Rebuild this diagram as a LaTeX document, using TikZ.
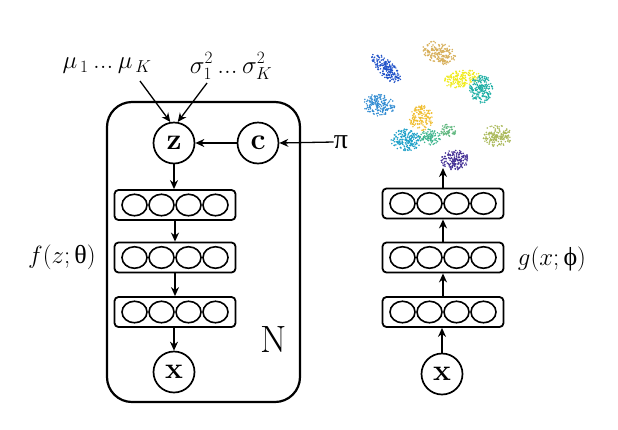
\documentclass[tikz,border=0pt]{standalone}
\usepackage{fontspec}
\usetikzlibrary{arrows.meta,calc,shapes.geometric}
\newfontfamily\grk{Liberation Serif}
\definecolor{cA}{RGB}{30,80,200}
\definecolor{cB}{RGB}{215,175,90}
\definecolor{cC}{RGB}{240,235,30}
\definecolor{cD}{RGB}{30,175,165}
\definecolor{cE}{RGB}{50,140,210}
\definecolor{cF}{RGB}{240,190,50}
\definecolor{cG}{RGB}{30,160,200}
\definecolor{cH}{RGB}{60,180,140}
\definecolor{cI}{RGB}{100,185,130}
\definecolor{cJ}{RGB}{170,185,90}
\definecolor{cK}{RGB}{70,50,150}
\newcommand\drawcluster[7]{%
  \foreach \k in {1,...,#7}{%
    \pgfmathsetmacro\myr{rnd^0.65}%
    \pgfmathsetmacro\myt{360*rnd}%
    \fill[#6] ($(#1,#2)+(#5:{#3*\myr*cos(\myt)})+(#5+90:{#4*\myr*sin(\myt)})$) circle (0.85);
  }}
\begin{document}
\begin{tikzpicture}[x=1pt,y=-1pt,
  every node/.style={inner sep=0pt},
  var/.style={draw,circle,line width=1.7pt,minimum size=41pt,font=\fontsize{30}{32}\selectfont\bfseries},
  layerbox/.style={draw,rounded corners=4pt,line width=1.8pt,minimum width=121pt,minimum height=30pt},
  unit/.style={draw,ellipse,line width=1.6pt,minimum width=25pt,minimum height=21.5pt},
  arr/.style={-{Stealth[length=9pt,width=8pt]},line width=1.3pt},
  lbl/.style={font=\fontsize{26}{28}\selectfont}]
\useasboundingbox (0,0) rectangle (618,429);
% plate
\node[draw,line width=2.2pt,rounded corners=25pt,minimum width=193pt,minimum height=300pt] (plate) at (203.5,252) {};
\node[font=\fontsize{38}{40}\selectfont] (N) at (274,340) {N};
% variables
\node[var] (z) at (174,143) {z};
\node[var] (c) at (258,143) {c};
\node[font=\fontsize{28}{30}\selectfont] (pi) at (341,142) {\grk π};
\node[font=\fontsize{27}{29}\selectfont] (mu) at (107,66) {$\mu_{\,1}$\,...\,$\mu_{\,K}$};
\node[font=\fontsize{27}{29}\selectfont] (sig) at (231,66) {$\sigma_1^2$\,...\,$\sigma_K^2$};
\coordinate (mutail) at (140,81);
\coordinate (sigtail) at (207,83);
\draw[arr] (mutail) -- (z.100);
\draw[arr] (sigtail) -- (z.80);
\draw[arr] (c) -- (z);
\draw[arr] (pi.west) -- (c.east);
% decoder layers
\foreach \n/\y in {A/205,B/257.5,C/312}{
  \node[layerbox] (\n) at (175,\y) {};
  \foreach \i/\dx in {1/-40.5,2/-13.5,3/13.5,4/40.5}
    \node[unit] (\n u\i) at ($(\n)+(\dx,0)$) {};
}
\node[var] (x) at (174,372) {x};
\draw[arr] (z) -- (z|-A.north);
\draw[arr] (A) -- (B);
\draw[arr] (B) -- (C);
\draw[arr] (C.south-|x) -- (x);
\node[lbl] (f) at (62,257) {$f(z;\mbox{\grk θ})$};
% encoder
\foreach \n/\y in {D/203.5,E/257.5,F/312}{
  \node[layerbox] (\n) at (443,\y) {};
  \foreach \i/\dx in {1/-40.5,2/-13.5,3/13.5,4/40.5}
    \node[unit] (\n u\i) at ($(\n)+(\dx,0)$) {};
}
\node[var] (x2) at (442,374) {x};
\draw[arr] (x2) -- (x2|-F.south);
\draw[arr] (F) -- (E);
\draw[arr] (E) -- (D);
\coordinate (emb) at (443,168);
\draw[arr] (D) -- (emb);
\node[lbl] (g) at (552,259) {$g(x;\mbox{\grk ϕ})$};
% embedding scatter
\pgfmathsetseed{7}
\drawcluster{386}{68}{20}{8}{47}{cA}{190}
\drawcluster{439}{53}{17}{11}{20}{cB}{190}
\drawcluster{462}{79}{18}{9}{-10}{cC}{170}
\drawcluster{481}{89}{12}{14}{0}{cD}{190}
\drawcluster{379}{105}{16}{11}{10}{cE}{180}
\drawcluster{421}{118}{12}{13}{0}{cF}{150}
\drawcluster{406}{140}{15}{11}{0}{cG}{190}
\drawcluster{430}{137}{11}{8}{0}{cH}{90}
\drawcluster{448}{131}{8}{7}{0}{cI}{60}
\drawcluster{497}{136}{15}{11}{0}{cJ}{170}
\drawcluster{455}{160}{14}{10}{0}{cK}{170}
\end{tikzpicture}
\end{document}
